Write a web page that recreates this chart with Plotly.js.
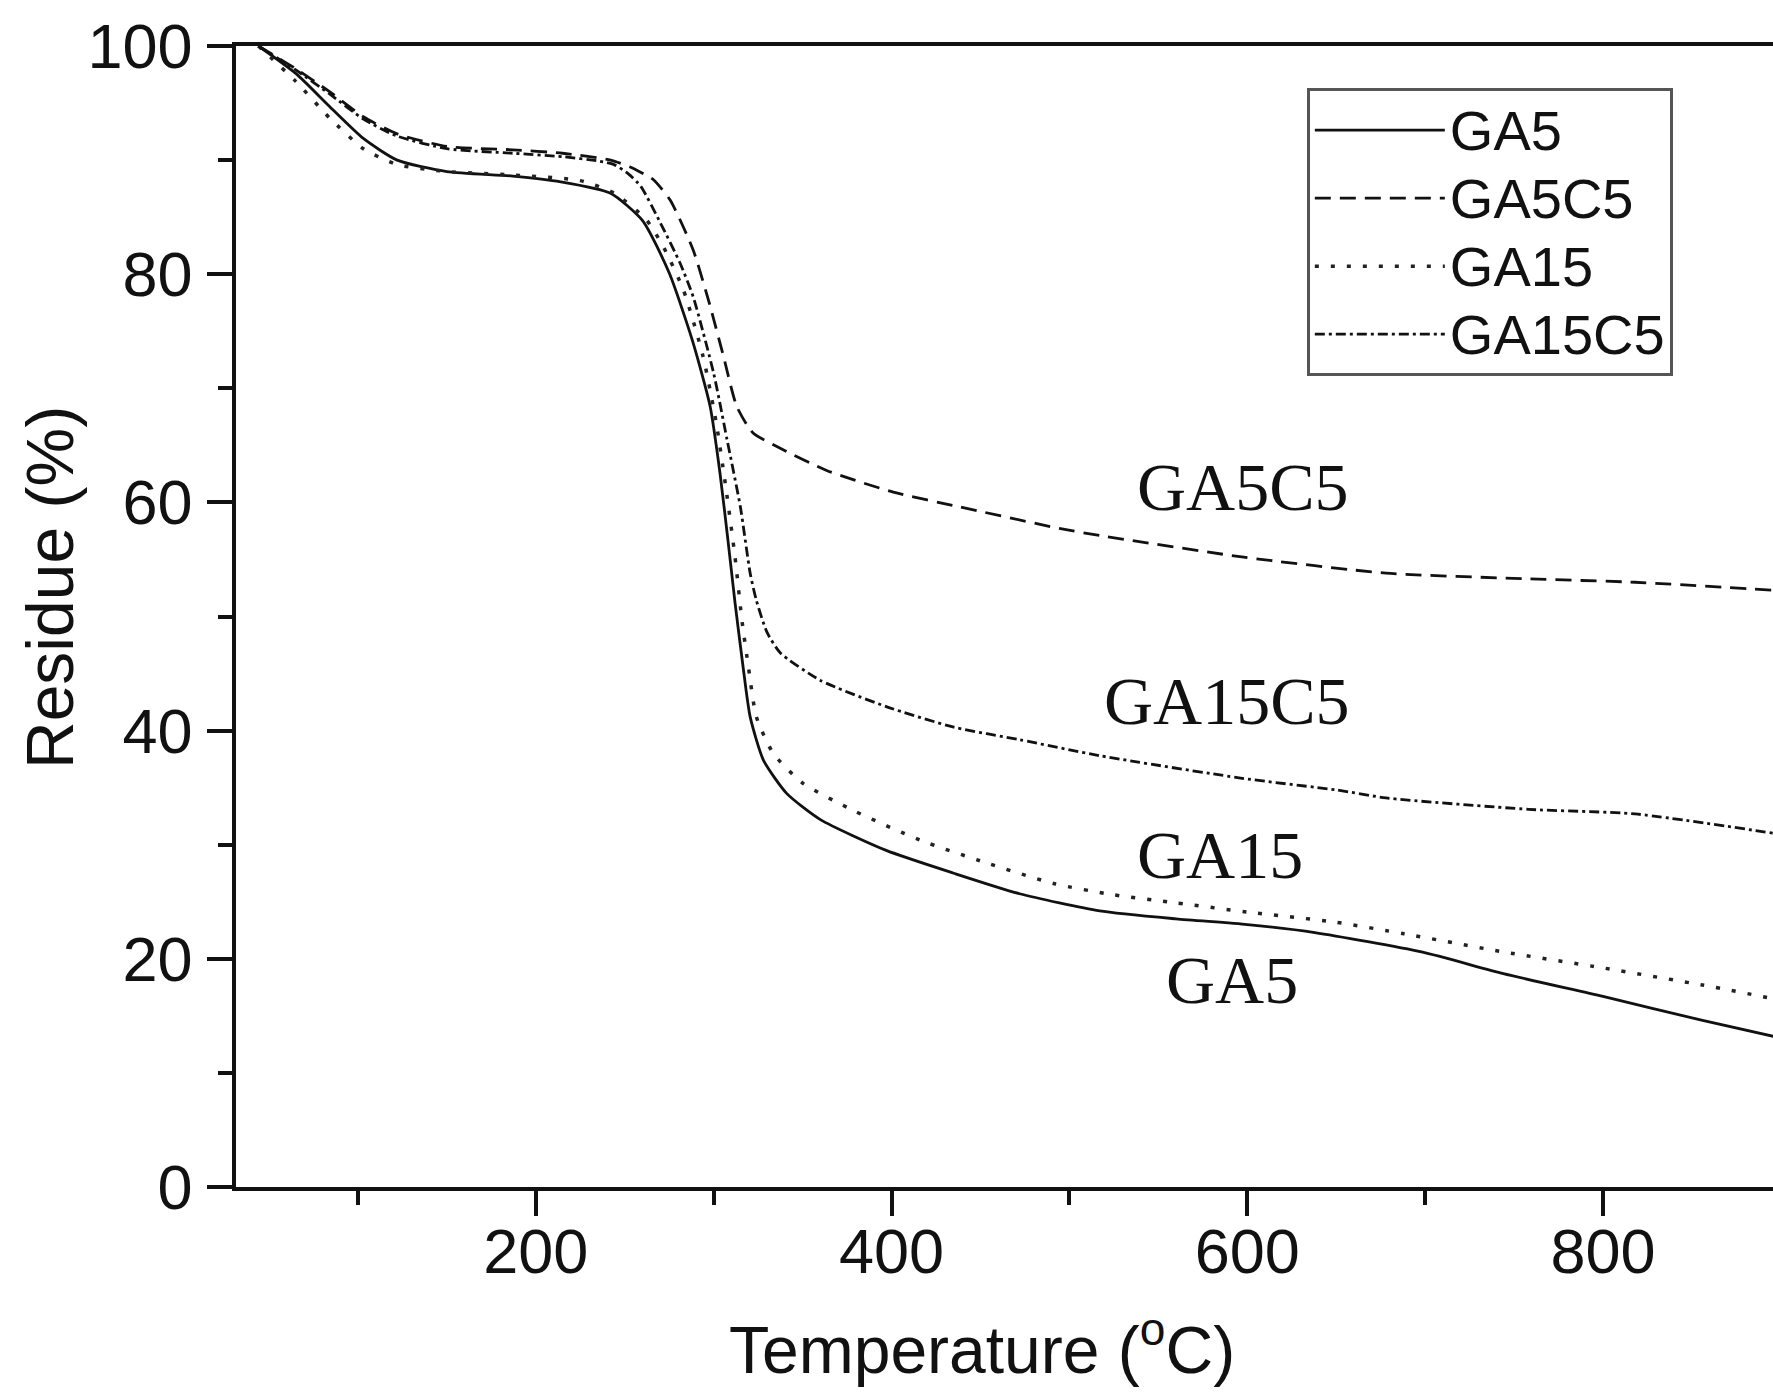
<!DOCTYPE html>
<html>
<head>
<meta charset="utf-8">
<script src="https://cdn.plot.ly/plotly-3.0.1.min.js"></script>
<style>
  html, body { margin: 0; padding: 0; background: #ffffff; }
  #chart { width: 1773px; height: 1393px; }
</style>
</head>
<body>
<div id="chart"></div>
<script>
// ---- Data (temperature in °C, residue in %) ----
const seriesNames = ["GA5", "GA5C5", "GA15", "GA15C5"];

const ga5Temp = [44, 65, 84, 103, 122, 150, 187, 214, 242, 260, 275, 288, 298, 303.5, 308, 312, 316.5, 320.5, 328, 341, 360, 397, 435, 472, 517, 560, 600, 638, 698, 744, 800, 856, 896];
const ga5Res  = [100, 97.6, 94.7, 91.9, 90.0, 89.0, 88.6, 88.1, 87.1, 84.7, 80.1, 74.2, 68.4, 62.6, 56.7, 51.2, 45.6, 41.2, 37.4, 34.5, 32.2, 29.5, 27.5, 25.7, 24.2, 23.5, 23.0, 22.3, 20.6, 18.7, 16.7, 14.6, 13.2];

const ga5c5Temp = [44, 65, 84, 103, 122, 150, 187, 215, 242, 253, 260.5, 266, 275.5, 288.5, 298, 305.5, 313, 322, 335.5, 363.5, 401, 438.5, 495, 517, 598, 678, 758, 818, 896];
const ga5c5Res  = [100, 98.0, 96.0, 93.8, 92.3, 91.2, 90.9, 90.6, 90.0, 89.4, 88.8, 88.3, 86.5, 82.1, 77.2, 72.8, 68.4, 66.1, 64.9, 62.8, 60.9, 59.6, 57.7, 57.1, 55.2, 53.8, 53.3, 53.0, 52.3];

const ga15Temp = [44, 65, 84, 103, 122, 150, 187, 225, 244, 262, 272, 283, 294, 301.5, 307, 312, 316, 319.5, 324, 333.5, 350, 378.5, 416, 453.5, 491, 525, 560, 600, 650, 688, 744, 800, 856, 896];
const ga15Res  = [100, 96.9, 93.7, 91.0, 89.6, 89.0, 88.7, 88.2, 87.1, 84.8, 82.3, 78.6, 72.8, 66.9, 61.1, 55.2, 49.5, 45.6, 41.2, 38.0, 35.4, 33.0, 30.4, 28.4, 26.6, 25.6, 24.9, 24.1, 23.2, 22.2, 20.6, 19.2, 17.7, 16.5];

const ga15c5Temp = [44, 65, 84, 103, 122, 150, 187, 215, 236, 244, 252, 259, 270, 281, 288.5, 300, 307.5, 315, 320.5, 324, 330, 337.5, 360, 397, 435, 472, 517, 598, 650, 678, 758, 818, 896];
const ga15c5Res  = [100, 97.9, 95.8, 93.6, 92.1, 91.0, 90.6, 90.3, 89.9, 89.6, 88.8, 87.7, 84.5, 81.0, 78.0, 71.3, 65.5, 59.6, 53.8, 51.4, 48.6, 46.8, 44.4, 42.1, 40.3, 39.2, 37.8, 35.8, 34.8, 34.1, 33.1, 32.7, 31.0];

// curve labels placed in the plot
const labelText = ["GA5C5", "GA15C5", "GA15", "GA5"];
const labelTemp = [597.5, 588.5, 584.5, 591.5];
const labelRes  = [61.35, 42.6, 29.1, 18.1];

const xTitle = "Temperature (<sup>o</sup>C)";
const yTitle = "Residue (%)";

const xMajorTicks = [200, 400, 600, 800];
const xMinorTicks = [100, 300, 500, 700];
const yMajorTicks = [0, 20, 40, 60, 80, 100];
const yMinorTicks = [10, 30, 50, 70, 90];

// ---- Figure ----
const sans = "Arial, 'Liberation Sans', sans-serif";
const serif = "'Times New Roman', 'Liberation Serif', serif";
const smooth = 0.6;
const legendName = n => "<span style='font-size:56px'>" + n + "</span>";

const traces = [
  { x: ga5Temp, y: ga5Res, name: legendName(seriesNames[0]), mode: "lines",
    line: { color: "#111111", width: 2.8, dash: "solid", shape: "spline", smoothing: smooth } },
  { x: ga5c5Temp, y: ga5c5Res, name: legendName(seriesNames[1]), mode: "lines",
    line: { color: "#111111", width: 2.8, dash: "16px,9px", shape: "spline", smoothing: smooth } },
  { x: ga15Temp, y: ga15Res, name: legendName(seriesNames[2]), mode: "lines",
    line: { color: "#222222", width: 3.5, dash: "4px,12px", shape: "spline", smoothing: smooth } },
  { x: ga15c5Temp, y: ga15c5Res, name: legendName(seriesNames[3]), mode: "lines",
    line: { color: "#111111", width: 2.8, dash: "10px,4px,3px,4px", shape: "spline", smoothing: smooth } }
];

const annotations = labelText.map((t, i) => ({
  x: labelTemp[i], y: labelRes[i], xref: "x", yref: "y",
  text: t, showarrow: false, xanchor: "center", yanchor: "middle",
  font: { family: serif, size: 68, color: "#111111" }
}));
// axis titles (placed to match the reference's off-centre positions)
annotations.push({
  x: 0.4854, y: -0.1384, xref: "paper", yref: "paper",
  text: xTitle, showarrow: false, xanchor: "center", yanchor: "middle",
  font: { family: sans, size: 66, color: "#111111" }
});
annotations.push({
  x: -0.1210, y: 0.525, xref: "paper", yref: "paper",
  text: yTitle, showarrow: false, xanchor: "center", yanchor: "middle", textangle: -90,
  font: { family: sans, size: 66, color: "#111111" }
});

const layout = {
  width: 1773, height: 1393,
  margin: { l: 236, r: 0, t: 46, b: 206, pad: 0 },
  paper_bgcolor: "#ffffff", plot_bgcolor: "#ffffff",
  showlegend: true,
  legend: {
    x: 0.6967, y: 0.963, xanchor: "left", yanchor: "top",
    bgcolor: "#ffffff", bordercolor: "#555555", borderwidth: 3,
    font: { family: sans, size: 50, color: "#111111" },
    itemwidth: 130, tracegroupgap: 0
  },
  xaxis: {
    range: [31.4, 895.6], showgrid: false, zeroline: false,
    showline: true, linecolor: "#111111", linewidth: 3.5, mirror: true,
    ticks: "outside", ticklen: 25, tickwidth: 3.5, tickcolor: "#111111",
    tickmode: "array", tickvals: xMajorTicks, ticktext: xMajorTicks.map(String),
    ticklabelstandoff: -18,
    minor: { tickmode: "array", tickvals: xMinorTicks, ticks: "outside", ticklen: 14, tickwidth: 3.5, tickcolor: "#111111", showgrid: false },
    tickfont: { family: sans, size: 63, color: "#111111" }
  },
  yaxis: {
    range: [0, 100], showgrid: false, zeroline: false,
    showline: true, linecolor: "#111111", linewidth: 3.5, mirror: false,
    ticks: "outside", ticklen: 25, tickwidth: 3.5, tickcolor: "#111111",
    tickmode: "array", tickvals: yMajorTicks, ticktext: yMajorTicks.map(String),
    ticklabelstandoff: 2,
    minor: { tickmode: "array", tickvals: yMinorTicks, ticks: "outside", ticklen: 14, tickwidth: 3.5, tickcolor: "#111111", showgrid: false },
    tickfont: { family: sans, size: 63, color: "#111111" }
  },
  annotations: annotations
};

Plotly.newPlot("chart", traces, layout, { displayModeBar: false, responsive: false });
</script>
</body>
</html>
